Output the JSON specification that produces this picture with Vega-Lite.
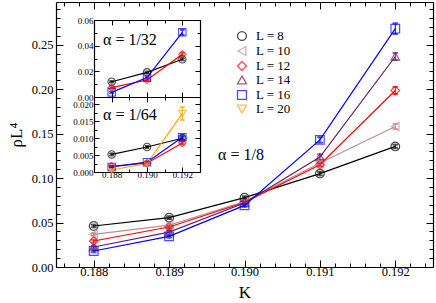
{
  "$schema": "https://vega.github.io/schema/vega-lite/v6.json",
  "width": 377,
  "height": 265,
  "autosize": {"type": "none"},
  "padding": {"left": 56, "top": 2, "right": 3, "bottom": 36},
  "background": "white",
  "config": {
    "view": {"stroke": null},
    "font": "Liberation Serif",
    "axis": {"grid": false, "domainColor": "black", "domainWidth": 1.2, "tickColor": "black", "tickWidth": 1, "labelColor": "black", "titleColor": "black", "labelFont": "Liberation Serif", "titleFont": "Liberation Serif", "titleFontWeight": "normal", "labelFlush": false, "labelOverlap": false},
    "legend": {"labelFont": "Liberation Serif", "labelColor": "black"}
  },
  "datasets": {
    "main": [
      {"K": 0.188, "L": 8, "r": 0.0461, "e": 0.0015}, {"K": 0.189, "L": 8, "r": 0.0555, "e": 0.0015}, {"K": 0.190, "L": 8, "r": 0.078, "e": 0.0015}, {"K": 0.191, "L": 8, "r": 0.105, "e": 0.002}, {"K": 0.192, "L": 8, "r": 0.1356, "e": 0.002},
      {"K": 0.188, "L": 10, "r": 0.0367, "e": 0.0015}, {"K": 0.189, "L": 10, "r": 0.047, "e": 0.0015}, {"K": 0.190, "L": 10, "r": 0.0735, "e": 0.0015}, {"K": 0.191, "L": 10, "r": 0.117, "e": 0.002}, {"K": 0.192, "L": 10, "r": 0.158, "e": 0.003},
      {"K": 0.188, "L": 12, "r": 0.0292, "e": 0.0015}, {"K": 0.189, "L": 12, "r": 0.045, "e": 0.0015}, {"K": 0.190, "L": 12, "r": 0.0725, "e": 0.0015}, {"K": 0.191, "L": 12, "r": 0.115, "e": 0.002}, {"K": 0.192, "L": 12, "r": 0.1985, "e": 0.004},
      {"K": 0.188, "L": 14, "r": 0.0225, "e": 0.0015}, {"K": 0.189, "L": 14, "r": 0.0393, "e": 0.0015}, {"K": 0.190, "L": 14, "r": 0.072, "e": 0.0015}, {"K": 0.191, "L": 14, "r": 0.1236, "e": 0.003}, {"K": 0.192, "L": 14, "r": 0.2367, "e": 0.004},
      {"K": 0.188, "L": 16, "r": 0.018, "e": 0.0015}, {"K": 0.189, "L": 16, "r": 0.0345, "e": 0.0015}, {"K": 0.190, "L": 16, "r": 0.0693, "e": 0.0015}, {"K": 0.191, "L": 16, "r": 0.143, "e": 0.003}, {"K": 0.192, "L": 16, "r": 0.268, "e": 0.006}
    ],
    "a32": [
      {"K": 0.188, "L": 8, "r": 0.0119, "e": 0.0006}, {"K": 0.190, "L": 8, "r": 0.0192, "e": 0.0006}, {"K": 0.192, "L": 8, "r": 0.0294, "e": 0.0008},
      {"K": 0.188, "L": 12, "r": 0.0073, "e": 0.0006}, {"K": 0.190, "L": 12, "r": 0.0132, "e": 0.0006}, {"K": 0.192, "L": 12, "r": 0.0333, "e": 0.0012},
      {"K": 0.188, "L": 16, "r": 0.0036, "e": 0.0006}, {"K": 0.190, "L": 16, "r": 0.0151, "e": 0.0008}, {"K": 0.192, "L": 16, "r": 0.0504, "e": 0.002}
    ],
    "a64": [
      {"K": 0.188, "L": 8, "r": 0.0052, "e": 0.0003}, {"K": 0.190, "L": 8, "r": 0.0074, "e": 0.0003}, {"K": 0.192, "L": 8, "r": 0.0100, "e": 0.0004},
      {"K": 0.188, "L": 12, "r": 0.0017, "e": 0.0002}, {"K": 0.190, "L": 12, "r": 0.0026, "e": 0.0002}, {"K": 0.192, "L": 12, "r": 0.0086, "e": 0.0004},
      {"K": 0.188, "L": 16, "r": 0.0015, "e": 0.0002}, {"K": 0.190, "L": 16, "r": 0.0029, "e": 0.0002}, {"K": 0.192, "L": 16, "r": 0.0103, "e": 0.0006},
      {"K": 0.188, "L": 20, "r": 0.0006, "e": 0.0003}, {"K": 0.190, "L": 20, "r": 0.0025, "e": 0.0003}, {"K": 0.192, "L": 20, "r": 0.0173, "e": 0.0019}
    ]
  },
  "resolve": {"scale": {"x": "independent", "y": "independent"}, "axis": {"x": "independent", "y": "independent"}},
  "layer": [
    {
      "data": {"name": "main"},
      "mark": {"type": "point", "filled": false, "size": 75, "strokeWidth": 1.2},
      "encoding": {
        "x": {"field": "K", "type": "quantitative", "scale": {"domain": [0.1875, 0.1925], "nice": false, "zero": false},
          "axis": {"orient": "top", "title": null, "labels": false,
            "values": [0.1876, 0.1878, 0.188, 0.1882, 0.1884, 0.1886, 0.1888, 0.189, 0.1892, 0.1894, 0.1896, 0.1898, 0.19, 0.1902, 0.1904, 0.1906, 0.1908, 0.191, 0.1912, 0.1914, 0.1916, 0.1918, 0.192, 0.1922, 0.1924],
            "tickSize": {"condition": {"test": "abs(datum.value*1000 - round(datum.value*1000)) < 0.01", "value": -7}, "value": -4}}},
        "y": {"field": "r", "type": "quantitative", "scale": {"domain": [0, 0.298], "nice": false},
          "axis": {"orient": "right", "title": null, "labels": false,
            "values": [0, 0.01, 0.02, 0.03, 0.04, 0.05, 0.06, 0.07, 0.08, 0.09, 0.1, 0.11, 0.12, 0.13, 0.14, 0.15, 0.16, 0.17, 0.18, 0.19, 0.2, 0.21, 0.22, 0.23, 0.24, 0.25, 0.26, 0.27, 0.28, 0.29],
            "tickSize": {"condition": {"test": "abs(datum.value*20 - round(datum.value*20)) < 0.01", "value": -7}, "value": -4}}},
        "color": {"field": "L", "type": "nominal", "scale": {"domain": [8, 10, 12, 14, 16, 20], "range": ["#000000", "#bc8f8f", "#ff0000", "#6e1e5e", "#0000ff", "#ffa500"]},
          "legend": {"orient": "none", "legendX": 179.5, "legendY": 27.5, "padding": 0, "title": null, "labelFontSize": 13, "labelOffset": 7.5, "labelExpr": "'L = ' + datum.label", "rowPadding": 0, "symbolSize": 80, "symbolStrokeWidth": 1.3, "symbolFillColor": "white"}},
        "shape": {"field": "L", "type": "nominal", "scale": {"domain": [8, 10, 12, 14, 16, 20], "range": ["circle", "triangle-left", "diamond", "triangle-up", "square", "triangle-down"]},
          "legend": {"orient": "none", "legendX": 179.5, "legendY": 27.5, "padding": 0, "title": null, "labelFontSize": 13, "labelOffset": 7.5, "labelExpr": "'L = ' + datum.label", "rowPadding": 0, "symbolSize": 80, "symbolStrokeWidth": 1.3, "symbolFillColor": "white"}}
      }
    },
    {
      "data": {"name": "main"},
      "mark": {"type": "line", "strokeWidth": 1.2},
      "encoding": {
        "x": {"field": "K", "type": "quantitative", "scale": {"domain": [0.1875, 0.1925], "nice": false, "zero": false},
          "axis": {"orient": "bottom", "title": "K", "titleFontSize": 17, "titlePadding": 4, "labelFontSize": 12.5, "labelPadding": 5,
            "values": [0.1876, 0.1878, 0.188, 0.1882, 0.1884, 0.1886, 0.1888, 0.189, 0.1892, 0.1894, 0.1896, 0.1898, 0.19, 0.1902, 0.1904, 0.1906, 0.1908, 0.191, 0.1912, 0.1914, 0.1916, 0.1918, 0.192, 0.1922, 0.1924],
            "labelExpr": "abs(datum.value*1000 - round(datum.value*1000)) < 0.01 ? format(datum.value, '.3f') : ''",
            "tickSize": {"condition": {"test": "abs(datum.value*1000 - round(datum.value*1000)) < 0.01", "value": -7}, "value": -4}}},
        "y": {"field": "r", "type": "quantitative", "scale": {"domain": [0, 0.298], "nice": false},
          "axis": {"orient": "left", "title": "ρL⁴", "titleFontSize": 17, "titlePadding": 6, "labelFontSize": 12.5, "labelPadding": 10,
            "values": [0, 0.01, 0.02, 0.03, 0.04, 0.05, 0.06, 0.07, 0.08, 0.09, 0.1, 0.11, 0.12, 0.13, 0.14, 0.15, 0.16, 0.17, 0.18, 0.19, 0.2, 0.21, 0.22, 0.23, 0.24, 0.25, 0.26, 0.27, 0.28, 0.29],
            "labelExpr": "abs(datum.value*20 - round(datum.value*20)) < 0.01 ? format(datum.value, '.2f') : ''",
            "tickSize": {"condition": {"test": "abs(datum.value*20 - round(datum.value*20)) < 0.01", "value": -7}, "value": -4}}},
        "stroke": {"field": "L", "type": "nominal", "scale": {"domain": [8, 10, 12, 14, 16, 20], "range": ["#000000", "#bc8f8f", "#ff0000", "#6e1e5e", "#0000ff", "#ffa500"]}, "legend": null}
      }
    },
    {
      "data": {"name": "main"},
      "mark": {"type": "errorbar", "ticks": {"size": 5}, "thickness": 1},
      "encoding": {
        "x": {"field": "K", "type": "quantitative", "scale": {"domain": [0.1875, 0.1925], "nice": false, "zero": false}, "axis": null},
        "y": {"field": "r", "type": "quantitative", "scale": {"domain": [0, 0.298], "nice": false}, "axis": null},
        "yError": {"field": "e"},
        "stroke": {"field": "L", "type": "nominal", "scale": {"domain": [8, 10, 12, 14, 16, 20], "range": ["#000000", "#bc8f8f", "#ff0000", "#6e1e5e", "#0000ff", "#ffa500"]}, "legend": null}
      }
    },
    {
      "data": {"values": [{"label": "α = 1/8"}]},
      "mark": {"type": "text", "align": "left", "baseline": "middle", "fontSize": 16, "font": "Liberation Serif", "color": "black"},
      "encoding": {
        "x": {"datum": 0.18965, "type": "quantitative", "scale": {"domain": [0.1875, 0.1925], "nice": false, "zero": false}, "axis": null},
        "y": {"datum": 0.126, "type": "quantitative", "scale": {"domain": [0, 0.298], "nice": false}, "axis": null},
        "text": {"field": "label"}
      }
    },
    {
      "data": {"name": "a32"},
      "mark": {"type": "line", "strokeWidth": 1.2},
      "encoding": {
        "x": {"field": "K", "type": "quantitative", "scale": {"domain": [0.187, 0.193], "range": [38, 144], "nice": false, "zero": false},
          "axis": {"orient": "bottom", "offset": -170, "title": null, "labels": false, "values": [0.187, 0.188, 0.189, 0.19, 0.191, 0.192, 0.193],
            "tickSize": {"condition": {"test": "abs(datum.value*500 - round(datum.value*500)) < 0.01", "value": -5}, "value": -3}}},
        "y": {"field": "r", "type": "quantitative", "scale": {"domain": [0, 0.06], "range": [95, 18], "nice": false},
          "axis": {"orient": "left", "offset": -38, "title": null, "labelFontSize": 9, "labelPadding": 6, "values": [0, 0.01, 0.02, 0.03, 0.04, 0.05, 0.06],
            "labelExpr": "abs(datum.value*50 - round(datum.value*50)) < 0.01 ? format(datum.value, '.2f') : ''",
            "tickSize": {"condition": {"test": "abs(datum.value*50 - round(datum.value*50)) < 0.01", "value": -5}, "value": -3}}},
        "stroke": {"field": "L", "type": "nominal", "scale": {"domain": [8, 10, 12, 14, 16, 20], "range": ["#000000", "#bc8f8f", "#ff0000", "#6e1e5e", "#0000ff", "#ffa500"]}, "legend": null}
      }
    },
    {
      "data": {"name": "a32"},
      "mark": {"type": "point", "filled": false, "size": 55, "strokeWidth": 1.1},
      "encoding": {
        "x": {"field": "K", "type": "quantitative", "scale": {"domain": [0.187, 0.193], "range": [38, 144], "nice": false, "zero": false},
          "axis": {"orient": "top", "offset": -18, "title": null, "labels": false, "values": [0.187, 0.188, 0.189, 0.19, 0.191, 0.192, 0.193],
            "tickSize": {"condition": {"test": "abs(datum.value*500 - round(datum.value*500)) < 0.01", "value": -5}, "value": -3}}},
        "y": {"field": "r", "type": "quantitative", "scale": {"domain": [0, 0.06], "range": [95, 18], "nice": false},
          "axis": {"orient": "right", "offset": -233, "title": null, "labels": false, "values": [0, 0.01, 0.02, 0.03, 0.04, 0.05, 0.06],
            "tickSize": {"condition": {"test": "abs(datum.value*50 - round(datum.value*50)) < 0.01", "value": -5}, "value": -3}}},
        "color": {"field": "L", "type": "nominal", "scale": {"domain": [8, 10, 12, 14, 16, 20], "range": ["#000000", "#bc8f8f", "#ff0000", "#6e1e5e", "#0000ff", "#ffa500"]}, "legend": null},
        "shape": {"field": "L", "type": "nominal", "scale": {"domain": [8, 10, 12, 14, 16, 20], "range": ["circle", "triangle-left", "diamond", "triangle-up", "square", "triangle-down"]}, "legend": null}
      }
    },
    {
      "data": {"name": "a32"},
      "mark": {"type": "errorbar", "ticks": {"size": 4}, "thickness": 1},
      "encoding": {
        "x": {"field": "K", "type": "quantitative", "scale": {"domain": [0.187, 0.193], "range": [38, 144], "nice": false, "zero": false}, "axis": null},
        "y": {"field": "r", "type": "quantitative", "scale": {"domain": [0, 0.06], "range": [95, 18], "nice": false}, "axis": null},
        "yError": {"field": "e"},
        "stroke": {"field": "L", "type": "nominal", "scale": {"domain": [8, 10, 12, 14, 16, 20], "range": ["#000000", "#bc8f8f", "#ff0000", "#6e1e5e", "#0000ff", "#ffa500"]}, "legend": null}
      }
    },
    {
      "data": {"values": [{"label": "α = 1/32"}]},
      "mark": {"type": "text", "align": "left", "baseline": "middle", "fontSize": 16, "font": "Liberation Serif", "color": "black"},
      "encoding": {
        "x": {"datum": 0.18751, "type": "quantitative", "scale": {"domain": [0.187, 0.193], "range": [38, 144], "nice": false, "zero": false}, "axis": null},
        "y": {"datum": 0.0444, "type": "quantitative", "scale": {"domain": [0, 0.06], "range": [95, 18], "nice": false}, "axis": null},
        "text": {"field": "label"}
      }
    },
    {
      "data": {"name": "a64"},
      "mark": {"type": "line", "strokeWidth": 1.2},
      "encoding": {
        "x": {"field": "K", "type": "quantitative", "scale": {"domain": [0.187, 0.193], "range": [38, 144], "nice": false, "zero": false},
          "axis": {"orient": "bottom", "offset": -95, "title": null, "labelFontSize": 9, "labelPadding": 3, "values": [0.187, 0.188, 0.189, 0.19, 0.191, 0.192, 0.193],
            "labelExpr": "abs(datum.value*500 - round(datum.value*500)) < 0.01 ? format(datum.value, '.3f') : ''",
            "tickSize": {"condition": {"test": "abs(datum.value*500 - round(datum.value*500)) < 0.01", "value": -5}, "value": -3}}},
        "y": {"field": "r", "type": "quantitative", "scale": {"domain": [0, 0.0222], "range": [170, 95], "nice": false},
          "axis": {"orient": "left", "offset": -38, "title": null, "labelFontSize": 9, "labelPadding": 6, "values": [0, 0.0025, 0.005, 0.0075, 0.01, 0.0125, 0.015, 0.0175, 0.02],
            "labelExpr": "abs(datum.value*200 - round(datum.value*200)) < 0.01 ? format(datum.value, '.3f') : ''",
            "tickSize": {"condition": {"test": "abs(datum.value*200 - round(datum.value*200)) < 0.01", "value": -5}, "value": -3}}},
        "stroke": {"field": "L", "type": "nominal", "scale": {"domain": [8, 10, 12, 14, 16, 20], "range": ["#000000", "#bc8f8f", "#ff0000", "#6e1e5e", "#0000ff", "#ffa500"]}, "legend": null}
      }
    },
    {
      "data": {"name": "a64"},
      "mark": {"type": "point", "filled": false, "size": 55, "strokeWidth": 1.1},
      "encoding": {
        "x": {"field": "K", "type": "quantitative", "scale": {"domain": [0.187, 0.193], "range": [38, 144], "nice": false, "zero": false},
          "axis": {"orient": "top", "offset": -95, "title": null, "labels": false, "values": [0.187, 0.188, 0.189, 0.19, 0.191, 0.192, 0.193],
            "tickSize": {"condition": {"test": "abs(datum.value*500 - round(datum.value*500)) < 0.01", "value": -5}, "value": -3}}},
        "y": {"field": "r", "type": "quantitative", "scale": {"domain": [0, 0.0222], "range": [170, 95], "nice": false},
          "axis": {"orient": "right", "offset": -233, "title": null, "labels": false, "values": [0, 0.0025, 0.005, 0.0075, 0.01, 0.0125, 0.015, 0.0175, 0.02],
            "tickSize": {"condition": {"test": "abs(datum.value*200 - round(datum.value*200)) < 0.01", "value": -5}, "value": -3}}},
        "color": {"field": "L", "type": "nominal", "scale": {"domain": [8, 10, 12, 14, 16, 20], "range": ["#000000", "#bc8f8f", "#ff0000", "#6e1e5e", "#0000ff", "#ffa500"]}, "legend": null},
        "shape": {"field": "L", "type": "nominal", "scale": {"domain": [8, 10, 12, 14, 16, 20], "range": ["circle", "triangle-left", "diamond", "triangle-up", "square", "triangle-down"]}, "legend": null}
      }
    },
    {
      "data": {"name": "a64"},
      "mark": {"type": "errorbar", "ticks": {"size": 4}, "thickness": 1},
      "encoding": {
        "x": {"field": "K", "type": "quantitative", "scale": {"domain": [0.187, 0.193], "range": [38, 144], "nice": false, "zero": false}, "axis": null},
        "y": {"field": "r", "type": "quantitative", "scale": {"domain": [0, 0.0222], "range": [170, 95], "nice": false}, "axis": null},
        "yError": {"field": "e"},
        "stroke": {"field": "L", "type": "nominal", "scale": {"domain": [8, 10, 12, 14, 16, 20], "range": ["#000000", "#bc8f8f", "#ff0000", "#6e1e5e", "#0000ff", "#ffa500"]}, "legend": null}
      }
    },
    {
      "data": {"values": [{"label": "α = 1/64"}]},
      "mark": {"type": "text", "align": "left", "baseline": "middle", "fontSize": 16, "font": "Liberation Serif", "color": "black"},
      "encoding": {
        "x": {"datum": 0.18751, "type": "quantitative", "scale": {"domain": [0.187, 0.193], "range": [38, 144], "nice": false, "zero": false}, "axis": null},
        "y": {"datum": 0.0169, "type": "quantitative", "scale": {"domain": [0, 0.0222], "range": [170, 95], "nice": false}, "axis": null},
        "text": {"field": "label"}
      }
    }
  ]
}
